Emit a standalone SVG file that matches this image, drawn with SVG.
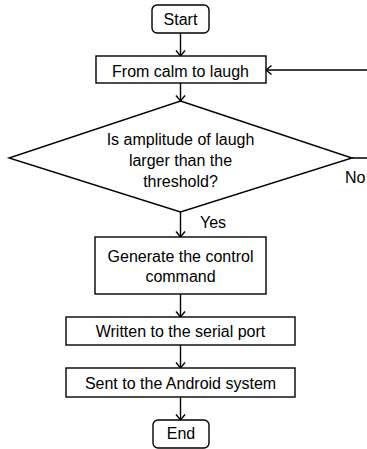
<svg xmlns="http://www.w3.org/2000/svg" width="367" height="449" viewBox="0 0 367 449">
<defs>
<style>
.n{fill:#fff;stroke:#000;stroke-width:1.4}
.c{fill:none;stroke:#000;stroke-width:1.4}
text{font-family:"Liberation Sans",Arial,sans-serif;font-size:16px;fill:#000}
.m{text-anchor:middle}
</style>
<marker id="a" markerUnits="userSpaceOnUse" markerWidth="12" markerHeight="12" refX="6" refY="6" orient="auto" viewBox="0 0 12 12">
<path d="M0.5,1.5 L6,6 L0.5,10.5" fill="none" stroke="#000" stroke-width="1.4"/>
</marker>
</defs>
<rect width="367" height="449" fill="#fff"/>
<g id="connectors">
<line class="c" x1="180.5" y1="33" x2="180.5" y2="56" marker-end="url(#a)"/>
<line class="c" x1="180.5" y1="83" x2="180.5" y2="101" marker-end="url(#a)"/>
<line class="c" x1="180.5" y1="212" x2="180.5" y2="237" marker-end="url(#a)"/>
<line class="c" x1="180.5" y1="294" x2="180.5" y2="317" marker-end="url(#a)"/>
<line class="c" x1="180.5" y1="345" x2="180.5" y2="368" marker-end="url(#a)"/>
<line class="c" x1="180.5" y1="397" x2="180.5" y2="420" marker-end="url(#a)"/>
<path class="c" d="M352,158 H369 V70 H266" marker-end="url(#a)"/>
<text x="200" y="228">Yes</text>
<text x="345" y="183">No</text>
</g>
<g id="start">
<rect class="n" x="152" y="5" width="57" height="28" rx="5"/>
<text class="m" x="180.5" y="25">Start</text>
</g>
<g id="calm">
<rect class="n" x="96" y="56" width="170" height="27"/>
<text class="m" x="180.5" y="77">From calm to laugh</text>
</g>
<g id="decision">
<polygon class="n" points="180.5,101 352,158 180.5,212 9,158"/>
<text class="m" x="180.5" y="145">Is amplitude of laugh</text>
<text class="m" x="180.5" y="166">larger than the</text>
<text class="m" x="180.5" y="187">threshold?</text>
</g>
<g id="generate">
<rect class="n" x="95" y="237" width="171" height="57"/>
<text class="m" x="180.5" y="262">Generate the control</text>
<text class="m" x="180.5" y="282">command</text>
</g>
<g id="written">
<rect class="n" x="66" y="317" width="229" height="28"/>
<text class="m" x="180.5" y="337">Written to the serial port</text>
</g>
<g id="sent">
<rect class="n" x="66" y="368" width="229" height="29"/>
<text class="m" x="180.5" y="389">Sent to the Android system</text>
</g>
<g id="end">
<rect class="n" x="153" y="420" width="56" height="28" rx="5"/>
<text class="m" x="181" y="439">End</text>
</g>
</svg>
